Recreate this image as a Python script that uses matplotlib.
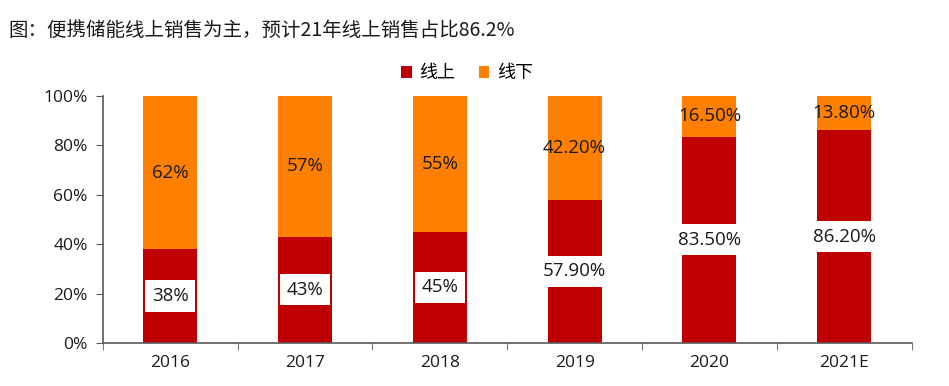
import matplotlib
matplotlib.use('Agg')
import matplotlib.pyplot as plt
import numpy as np

# data
years = ['2016', '2017', '2018', '2019', '2020', '2021E']
online = [38, 43, 45, 57.9, 83.5, 86.2]
offline = [62, 57, 55, 42.2, 16.5, 13.8]
online_labels = ['38%', '43%', '45%', '57.90%', '83.50%', '86.20%']
offline_labels = ['62%', '57%', '55%', '42.20%', '16.50%', '13.80%']
yticks = [0, 20, 40, 60, 80, 100]

RED = '#C00000'
ORANGE = '#FF8000'
NUM_FONT = ['Open Sans', 'Noto Sans CJK SC']
CJK_FONT = ['Noto Sans CJK SC', 'DejaVu Sans']

fig = plt.figure(figsize=(9.49, 3.86), dpi=100)
ax = fig.add_axes([0.1085, 0.1114, 0.852, 0.64])

x = np.arange(len(years))
ax.bar(x, online, width=0.4, color=RED, label='线上', zorder=2)
ax.bar(x, offline, width=0.4, bottom=online, color=ORANGE, label='线下', zorder=2)

for i in range(len(years)):
    ax.text(x[i], online[i] / 2, online_labels[i], ha='center', va='center',
            fontsize=13.5, family=NUM_FONT, color='#1a1a1a', zorder=3,
            bbox=dict(boxstyle='square,pad=0.35', facecolor='white', edgecolor='none'))
    ax.text(x[i], online[i] + offline[i] / 2, offline_labels[i], ha='center', va='center',
            fontsize=13.5, family=NUM_FONT, color='#1a1a1a', zorder=3)

ax.set_xlim(-0.5, len(years) - 0.5)
ax.set_ylim(0, 100)
ax.set_yticks(yticks)
ax.set_yticklabels([f'{t}%' for t in yticks], family=NUM_FONT, fontsize=12.5, color='#1a1a1a')
ax.set_xticks(x)
ax.set_xticklabels(years, family=NUM_FONT, fontsize=12.5, color='#1a1a1a')
ax.set_xticks(np.arange(len(years) + 1) - 0.5, minor=True)
ax.tick_params(axis='x', which='major', length=0, pad=9)
ax.tick_params(axis='x', which='minor', length=5, color='#595959', direction='out')
ax.tick_params(axis='y', length=5, color='#595959', direction='out', pad=6)

for s in ['top', 'right']:
    ax.spines[s].set_visible(False)
for s in ['left', 'bottom']:
    ax.spines[s].set_color('#595959')
    ax.spines[s].set_linewidth(1.2)

leg = fig.legend(loc='center', bbox_to_anchor=(0.492, 0.81), ncol=2, frameon=False,
                 prop={'family': CJK_FONT, 'size': 13}, handlelength=0.6, handleheight=0.6,
                 handletextpad=0.4, columnspacing=1.3)

fig.text(0.009, 0.92, '图：便携储能线上销售为主，预计21年线上销售占比86.2%',
         family=CJK_FONT, fontsize=14, color='#1a1a1a', va='center', ha='left')

fig.savefig('out.png', dpi=100)
